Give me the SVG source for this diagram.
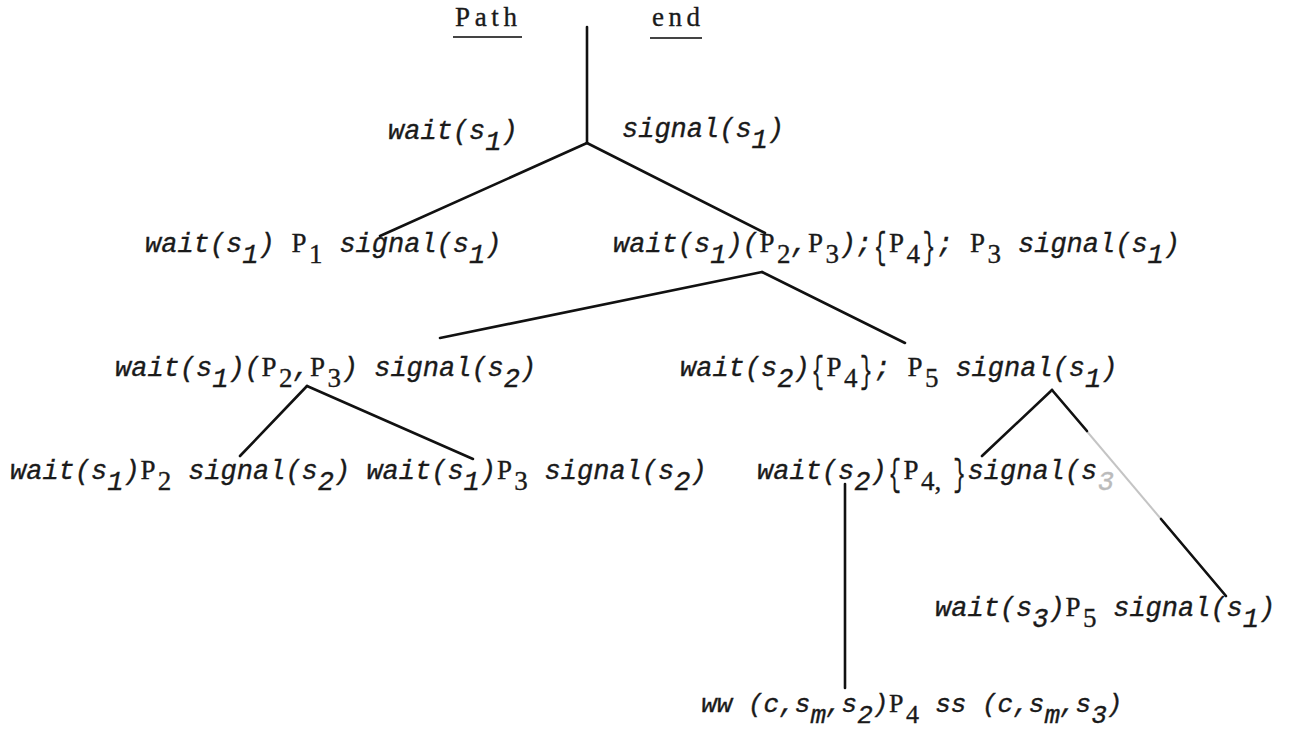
<svg xmlns="http://www.w3.org/2000/svg" width="1290" height="731" viewBox="0 0 1290 731">
<style>
text{font-family:"Liberation Mono","DejaVu Sans Mono",monospace;font-size:27px;fill:#1a1a1a;stroke:#1a1a1a;stroke-width:0.35}
.i{font-style:italic}
.u{font-family:"Liberation Serif","DejaVu Serif",serif;font-style:normal}
.br{font-style:normal;text-anchor:middle;stroke-width:0.2}
.s6{font-size:26px}
.e{stroke:#111;stroke-width:2.6;fill:none;stroke-linecap:round}
.f{stroke:#c4c4c4;stroke-width:2;fill:none}
.ul{stroke:#444;stroke-width:2}
.faint{fill:#bbb;stroke:#bbb}
</style>
<rect width="1290" height="731" fill="#fff"/>
<g id="connectors">
<path class="e" d="M587 27 V143"/>
<path class="e" d="M587 143 L380 236"/>
<path class="e" d="M587 143 L765 233"/>
<path class="e" d="M762 272 L440 338"/>
<path class="e" d="M762 272 L905 343"/>
<path class="e" d="M307 386 L240 456"/>
<path class="e" d="M307 386 L473 459"/>
<path class="e" d="M1052 390 L982 456"/>
<path class="f" d="M1052 390 L1226 596"/>
<path class="e" d="M1052 390 L1087 431"/>
<path class="e" d="M1161 519 L1226 596"/>
<path class="e" d="M845 484 V688"/>
</g>
<g id="header">
<text class="u" x="455" y="26" textLength="62" lengthAdjust="spacing">Path</text>
<line class="ul" x1="453" y1="37" x2="522" y2="37"/>
<text class="u" x="652" y="26" textLength="48" lengthAdjust="spacing">end</text>
<line class="ul" x1="650" y1="38" x2="702" y2="38"/>
</g>
<g id="n1-wait">
<text class="i" x="388" y="139">wait(s<tspan x="485.2" y="150">1</tspan><tspan x="501.4" y="139">)</tspan></text>
</g>
<g id="n1-signal">
<text class="i" x="622" y="137">signal(s<tspan x="751.6" y="148">1</tspan><tspan x="767.8" y="137">)</tspan></text>
</g>
<g id="n2-left">
<text class="i" x="145" y="252">wait(s<tspan x="242.2" y="263">1</tspan><tspan x="258.4" y="252">) </tspan><tspan class="u" x="291.5" y="252">P</tspan><tspan class="u" x="309" y="263">1 </tspan><tspan x="339.4" y="252">signal(s</tspan><tspan x="469" y="263">1</tspan><tspan x="485.2" y="252">)</tspan></text>
</g>
<g id="n2-right">
<text class="i" x="613" y="252">wait(s<tspan x="710.2" y="263">1</tspan><tspan x="726.4" y="252">)(</tspan><tspan class="u" x="759.5" y="252">P</tspan><tspan class="u" x="777" y="263">2</tspan><tspan x="791.2" y="252">,</tspan><tspan class="u" x="808" y="252">P</tspan><tspan class="u" x="825.6" y="263">3</tspan><tspan x="839.8" y="252">);</tspan><tspan class="u" x="889" y="252">P</tspan><tspan class="u" x="906.6" y="263">4</tspan><tspan x="937" y="252">; </tspan><tspan class="u" x="970" y="252">P</tspan><tspan class="u" x="987.6" y="263">3 </tspan><tspan x="1018" y="252">signal(s</tspan><tspan x="1147.6" y="263">1</tspan><tspan x="1163.8" y="252">)</tspan></text>
<text class="br" transform="translate(880.3 258) scale(0.8 1.35)">{</text>
<text class="br" transform="translate(928.9 258) scale(0.8 1.35)">}</text>
</g>
<g id="n3-left">
<text class="i" x="115" y="376">wait(s<tspan x="212.2" y="387">1</tspan><tspan x="228.4" y="376">)(</tspan><tspan class="u" x="261.5" y="376">P</tspan><tspan class="u" x="279" y="387">2</tspan><tspan x="293.2" y="376">,</tspan><tspan class="u" x="310" y="376">P</tspan><tspan class="u" x="327.6" y="387">3</tspan><tspan x="341.8" y="376">) </tspan><tspan x="374.2" y="376">signal(s</tspan><tspan x="503.8" y="387">2</tspan><tspan x="520" y="376">)</tspan></text>
</g>
<g id="n3-right">
<text class="i" x="680" y="376">wait(s<tspan x="777.2" y="387">2</tspan><tspan x="793.4" y="376">)</tspan><tspan class="u" x="826.5" y="376">P</tspan><tspan class="u" x="844" y="387">4</tspan><tspan x="874.4" y="376">; </tspan><tspan class="u" x="907.5" y="376">P</tspan><tspan class="u" x="925" y="387">5 </tspan><tspan x="955.4" y="376">signal(s</tspan><tspan x="1085" y="387">1</tspan><tspan x="1101.2" y="376">)</tspan></text>
<text class="br" transform="translate(817.7 382) scale(0.8 1.35)">{</text>
<text class="br" transform="translate(866.3 382) scale(0.8 1.35)">}</text>
</g>
<g id="n4-left-a">
<text class="i" x="10" y="479">wait(s<tspan x="107.2" y="490">1</tspan><tspan x="123.4" y="479">)</tspan><tspan class="u" x="140.5" y="479">P</tspan><tspan class="u" x="157.8" y="490">2 </tspan><tspan x="188.2" y="479">signal(s</tspan><tspan x="317.8" y="490">2</tspan><tspan x="334" y="479">)</tspan></text>
</g>
<g id="n4-left-b">
<text class="i" x="366.4" y="479">wait(s<tspan x="463.6" y="490">1</tspan><tspan x="479.8" y="479">)</tspan><tspan class="u" x="497" y="479">P</tspan><tspan class="u" x="514.2" y="490">3 </tspan><tspan x="544.6" y="479">signal(s</tspan><tspan x="674.2" y="490">2</tspan><tspan x="690.4" y="479">)</tspan></text>
</g>
<g id="n4-right">
<text class="i" x="757" y="479">wait(s<tspan x="854.2" y="490">2</tspan><tspan x="870.4" y="479">)</tspan><tspan class="u" x="903.5" y="479">P</tspan><tspan class="u" x="921" y="490">4,</tspan><tspan x="967.6" y="479">signal(s</tspan><tspan class="faint" x="1097.8" y="490">3</tspan></text>
<text class="br" transform="translate(894.7 485) scale(0.8 1.35)">{</text>
<text class="br" transform="translate(959.5 485) scale(0.8 1.35)">}</text>
</g>
<g id="n5">
<text class="i" x="935" y="616">wait(s<tspan x="1032.2" y="627">3</tspan><tspan x="1048.4" y="616">)</tspan><tspan class="u" x="1065.5" y="616">P</tspan><tspan class="u" x="1083" y="627">5 </tspan><tspan x="1113.2" y="616">signal(s</tspan><tspan x="1242.8" y="627">1</tspan><tspan x="1259" y="616">)</tspan></text>
</g>
<g id="n6">
<text class="i s6" x="701.2" y="712">ww (c,s<tspan x="810.4" y="723">m</tspan><tspan x="826" y="712">,s</tspan><tspan x="857.2" y="723">2</tspan><tspan x="872.8" y="712">)</tspan><tspan class="u" x="889" y="712">P</tspan><tspan class="u" x="906" y="723">4 </tspan><tspan x="935.2" y="712">ss (c,s</tspan><tspan x="1044.4" y="723">m</tspan><tspan x="1060" y="712">,s</tspan><tspan x="1091.2" y="723">3</tspan><tspan x="1106.8" y="712">)</tspan></text>
</g>
</svg>
